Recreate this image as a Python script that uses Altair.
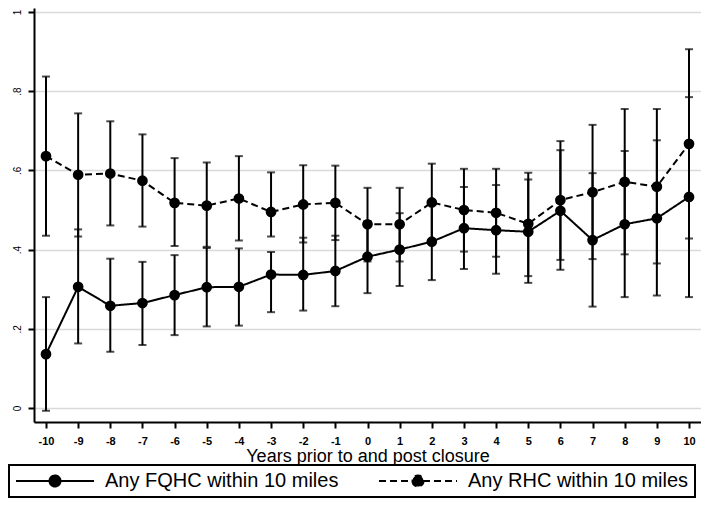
import altair as alt
import pandas as pd

# ---------------- data ----------------
years = list(range(-10, 11))
series_names = ["Any FQHC within 10 miles", "Any RHC within 10 miles"]

fqhc_est = [0.136, 0.306, 0.258, 0.265, 0.285, 0.305, 0.306, 0.337, 0.336, 0.346,
            0.382, 0.400, 0.420, 0.454, 0.449, 0.445, 0.498, 0.424, 0.464, 0.479, 0.533]
fqhc_lo = [-0.007, 0.163, 0.142, 0.159, 0.184, 0.206, 0.208, 0.242, 0.246, 0.257,
           0.290, 0.308, 0.323, 0.351, 0.339, 0.316, 0.349, 0.256, 0.280, 0.284, 0.280]
fqhc_hi = [0.280, 0.451, 0.377, 0.369, 0.386, 0.404, 0.403, 0.394, 0.430, 0.435,
           0.472, 0.492, 0.517, 0.558, 0.563, 0.577, 0.651, 0.593, 0.649, 0.676, 0.785]

rhc_est = [0.636, 0.589, 0.592, 0.574, 0.518, 0.511, 0.529, 0.495, 0.514, 0.518,
           0.464, 0.464, 0.519, 0.500, 0.493, 0.465, 0.525, 0.545, 0.571, 0.559, 0.667]
rhc_lo = [0.435, 0.433, 0.461, 0.458, 0.409, 0.407, 0.423, 0.433, 0.418, 0.424,
          0.370, 0.370, 0.421, 0.395, 0.382, 0.333, 0.374, 0.376, 0.388, 0.365, 0.428]
rhc_hi = [0.837, 0.744, 0.724, 0.691, 0.631, 0.620, 0.636, 0.595, 0.613, 0.612,
          0.556, 0.556, 0.617, 0.604, 0.604, 0.594, 0.674, 0.715, 0.755, 0.755, 0.906]

x_ticks = list(range(-10, 11))
y_ticks = [0, 0.2, 0.4, 0.6, 0.8, 1.0]

rows = []
for name, est, lo, hi in [(series_names[0], fqhc_est, fqhc_lo, fqhc_hi),
                          (series_names[1], rhc_est, rhc_lo, rhc_hi)]:
    for yr, e, l, h in zip(years, est, lo, hi):
        rows.append({"series": name, "year": yr, "est": e, "lo": l, "hi": h})
df = pd.DataFrame(rows)

# ---------------- styling ----------------
FONT = "Liberation Sans"
xscale = alt.Scale(domain=[-10.373, 10.373], nice=False, zero=False)
yscale = alt.Scale(domain=[-0.0354, 1.0101], nice=False, zero=False)
dash_scale = alt.Scale(domain=series_names, range=[[1, 0], [7, 4]])

x_axis = alt.Axis(values=x_ticks, title="Years prior to and post closure", grid=False,
                  tickSize=6, labelPadding=7, labelFontSize=11, labelFontWeight="bold",
                  labelFlush=False, labelOverlap=False, labelExpr="'' + datum.value",
                  titleFontSize=18, titleFontWeight="normal", titlePadding=1)
y_axis = alt.Axis(values=y_ticks, title=None, grid=True, gridColor="#d9d9d9", gridWidth=1.5,
                  tickSize=6, labelPadding=6, labelFontSize=10, labelAngle=270,
                  labelAlign="center", labelBaseline="bottom", labelOverlap=False,
                  labelExpr="datum.value == 0 ? '0' : (datum.value == 1 ? '1' : '.' + round(datum.value * 10))")

X = alt.X("year:Q", scale=xscale, axis=x_axis)

def Y(field):
    return alt.Y(field, scale=yscale, axis=y_axis)

# legend symbol: line with a dot in the middle (unit = sqrt(size)/2 px)
SYMBOL = "M-1,0L7.667,0M2.722,0A0.611,0.611,0,1,0,3.944,0A0.611,0.611,0,1,0,2.722,0Z"

legend = alt.Legend(
    orient="none", legendX=-25, legendY=457, direction="horizontal", title=None,
    symbolType=SYMBOL, symbolSize=324, symbolStrokeWidth=2,
    symbolFillColor="black", symbolStrokeColor="black", symbolOpacity=1,
    labelFont=FONT, labelFontSize=20, labelColor="black", labelOffset=70,
    labelLimit=500, columnPadding=36, padding=6, strokeColor="black", fillColor="white",
)

base = alt.Chart(df)

lines = base.mark_line(color="black", strokeWidth=2).encode(
    x=X, y=Y("est:Q"),
    strokeDash=alt.StrokeDash("series:N", scale=dash_scale, legend=legend),
    detail="series:N",
)
bars = base.mark_rule(color="black", strokeWidth=2).encode(x=X, y=Y("lo:Q"), y2="hi:Q")
caps_lo = base.mark_tick(color="black", orient="horizontal", size=8, thickness=2).encode(x=X, y=Y("lo:Q"))
caps_hi = base.mark_tick(color="black", orient="horizontal", size=8, thickness=2).encode(x=X, y=Y("hi:Q"))
dots = base.mark_circle(color="black", size=115, opacity=1).encode(x=X, y=Y("est:Q"))

chart = alt.layer(bars, caps_lo, caps_hi, lines, dots).properties(
    width=667, height=414,
    padding={"left": 0, "top": 0, "right": 0, "bottom": 0},
).configure(font=FONT).configure_view(stroke="transparent").configure_axis(
    domainColor="black", domainWidth=2, tickColor="black", tickWidth=2,
    labelColor="black", titleColor="black", labelFont=FONT, titleFont=FONT,
).configure_legend(strokeWidth=2)

chart.save("out.html", embed_options={"renderer": "svg", "actions": False})
